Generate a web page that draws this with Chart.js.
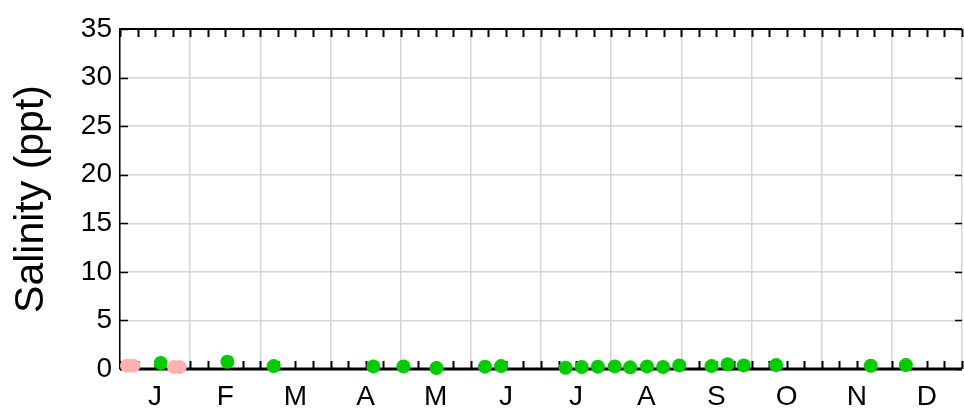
<!DOCTYPE html>
<html>
<head>
<meta charset="utf-8">
<script src="https://cdn.jsdelivr.net/npm/chart.js@4/dist/chart.umd.min.js"></script>
<style>
  html, body { margin: 0; padding: 0; background: #fff; overflow: hidden; }
  #wrap { width: 964px; height: 415px; }
</style>
</head>
<body>
<div id="wrap"><canvas id="salinityChart"></canvas></div>
<script>
// month letters, x axis runs 0..12 (one unit per month)
const monthLabels = ['J', 'F', 'M', 'A', 'M', 'J', 'J', 'A', 'S', 'O', 'N', 'D'];
const yTicks = [0, 5, 10, 15, 20, 25, 30, 35];

// green samples: position in months, salinity in ppt
const greenX = [0.58, 1.53, 2.19, 3.61, 4.04, 4.51, 5.20, 5.43, 6.35, 6.58, 6.81, 7.05,
                7.27, 7.51, 7.74, 7.97, 8.43, 8.66, 8.89, 9.35, 10.70, 11.20];
const greenY = [0.62, 0.75, 0.30, 0.27, 0.27, 0.10, 0.24, 0.30, 0.13, 0.20, 0.24, 0.27,
                0.17, 0.27, 0.20, 0.37, 0.30, 0.50, 0.37, 0.40, 0.34, 0.40];

// pink samples (early January)
const pinkX = [0.10, 0.19, 0.77, 0.85];
const pinkY = [0.34, 0.34, 0.20, 0.20];

const toPoints = (xs, ys) => xs.map((x, i) => ({ x: x, y: ys[i] }));

// axis frame and inward tick marks, drawn under the points
const frameTicks = {
    id: 'frameTicks',
    beforeDatasetsDraw(chart) {
        const { ctx, chartArea: a, scales: { x, y } } = chart;
        ctx.save();
        ctx.strokeStyle = '#000';
        ctx.lineWidth = 2;
        // minor ticks top and bottom, every quarter month
        for (let v = 0; v <= 12; v += 0.25) {
            const px = Math.round(x.getPixelForValue(v)) + 0.5;
            ctx.beginPath();
            ctx.moveTo(px, a.top);
            ctx.lineTo(px, a.top + 8);
            ctx.moveTo(px, a.bottom);
            ctx.lineTo(px, a.bottom - 8);
            ctx.stroke();
        }
        // y ticks left and right
        ctx.lineWidth = 1.5;
        yTicks.forEach(v => {
            const py = Math.round(y.getPixelForValue(v)) + 0.5;
            ctx.beginPath();
            ctx.moveTo(a.left, py);
            ctx.lineTo(a.left + 8, py);
            ctx.moveTo(a.right, py);
            ctx.lineTo(a.right - 7, py);
            ctx.stroke();
        });
        // top border
        ctx.lineWidth = 2;
        ctx.beginPath();
        ctx.moveTo(a.left, a.top);
        ctx.lineTo(a.right, a.top);
        ctx.stroke();
        // heavy baseline
        ctx.lineWidth = 3;
        ctx.beginPath();
        ctx.moveTo(a.left, a.bottom);
        ctx.lineTo(a.right, a.bottom);
        ctx.stroke();
        ctx.restore();
    }
};

const ctx = document.getElementById('salinityChart').getContext('2d');
new Chart(ctx, {
    type: 'scatter',
    data: {
        datasets: [
            {
                label: 'pink',
                data: toPoints(pinkX, pinkY),
                backgroundColor: '#ffb0b0',
                borderWidth: 0,
                pointRadius: 7,
                clip: false
            },
            {
                label: 'green',
                data: toPoints(greenX, greenY),
                backgroundColor: '#00cc00',
                borderWidth: 0,
                pointRadius: 7,
                clip: false
            }
        ]
    },
    options: {
        responsive: true,
        maintainAspectRatio: false,
        animation: false,
        layout: { autoPadding: false, padding: { top: 29, right: 2, left: 0, bottom: 0 } },
        plugins: { legend: { display: false }, tooltip: { enabled: false } },
        scales: {
            x: {
                type: 'linear',
                min: 0,
                max: 12,
                afterFit: s => { s.height = 46; s.paddingLeft = 0; s.paddingRight = 0; },
                afterBuildTicks: s => {
                    s.ticks = [];
                    for (let i = 0; i <= 24; i++) s.ticks.push({ value: i / 2 });
                },
                border: { display: false },
                grid: {
                    drawTicks: false,
                    lineWidth: 1.5,
                    color: c => (c.tick && c.tick.value % 1 === 0 ? '#d4d4d4' : 'rgba(0,0,0,0)')
                },
                ticks: {
                    autoSkip: false,
                    maxRotation: 0,
                    padding: 11,
                    color: '#000',
                    font: { family: 'Liberation Sans', size: 28 },
                    callback: v => (v % 1 === 0.5 ? monthLabels[Math.floor(v)] : '')
                }
            },
            y: {
                min: 0,
                max: 35,
                afterFit: s => { s.width = 120; },
                border: { display: true, color: '#000', width: 1.5 },
                grid: { drawTicks: false, color: '#d4d4d4', lineWidth: 1.5 },
                ticks: {
                    stepSize: 5,
                    padding: 8,
                    color: '#000',
                    font: { family: 'Liberation Sans', size: 28 }
                },
                title: {
                    display: true,
                    text: 'Salinity (ppt)',
                    color: '#000',
                    font: { family: 'Liberation Sans', size: 41 },
                    padding: { top: 7, bottom: 0 }
                }
            }
        }
    },
    plugins: [frameTicks]
});
</script>
</body>
</html>
